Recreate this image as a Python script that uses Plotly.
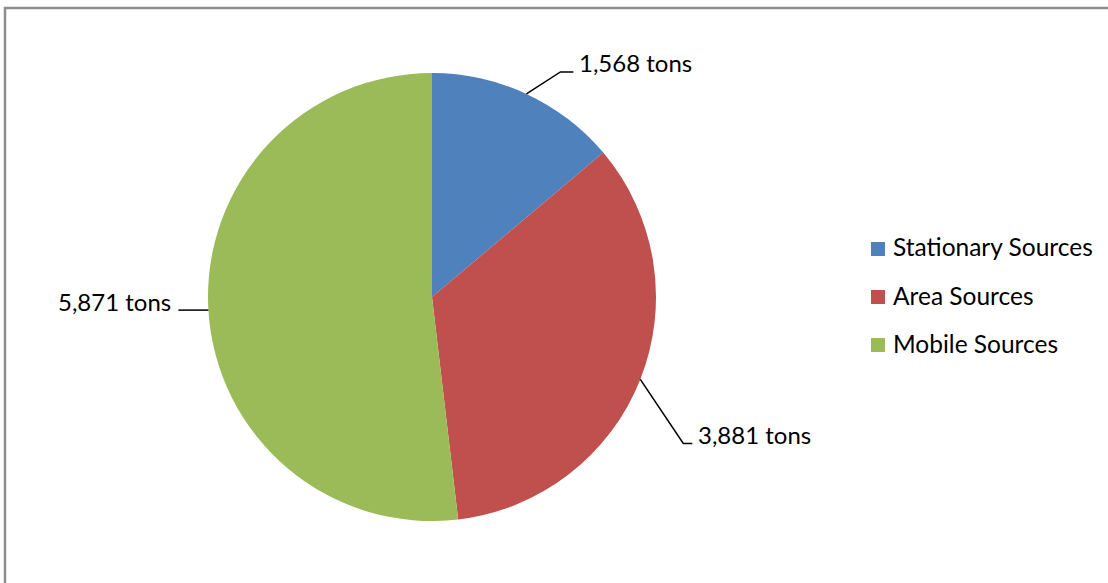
import math
import plotly.graph_objects as go

categories = ["Stationary Sources", "Area Sources", "Mobile Sources"]
values = [1568, 3881, 5871]
colors = ["#4F81BD", "#C0504D", "#9BBB59"]
label_texts = ["1,568 tons", "3,881 tons", "5,871 tons"]

W, H = 1108, 583
CX, CY, R = 432, 297, 224
FONT = "Lato"
FS = 24

def px(x):
    return x / W

def py(y):
    return 1 - y / H

fig = go.Figure()
fig.add_trace(go.Pie(
    labels=categories, values=values, sort=False, direction="clockwise", rotation=0,
    marker=dict(colors=colors, line=dict(width=0)),
    textinfo="none", hoverinfo="label+value", showlegend=False,
    domain=dict(x=[px(CX - R), px(CX + R)], y=[py(CY + R), py(CY - R)]),
))

shapes = []
annotations = []
# leader-line elbow offsets (layout styling), per slice
elbows = [(34, -22, 13, "left"), (43, 64, 9, "left"), (0, 0, -30, "right")]
total = sum(values)
cum = 0
for i, v in enumerate(values):
    mid = (cum + v / 2) / total * 2 * math.pi
    cum += v
    ex, ey = CX + R * math.sin(mid), CY - R * math.cos(mid)
    dx, dy, hx, side = elbows[i]
    bx, by = ex + dx, ey + dy
    tx = bx + hx
    path = f"M{px(ex)},{py(ey)} L{px(bx)},{py(by)} L{px(tx)},{py(by)}"
    shapes.append(dict(type="path", xref="paper", yref="paper", path=path,
                       line=dict(color="black", width=1.5)))
    if side == "left":
        annotations.append(dict(x=px(tx + 4), y=py(by - 9), xref="paper", yref="paper",
                                text=label_texts[i], showarrow=False, xanchor="left",
                                yanchor="middle", font=dict(family=FONT, size=FS, color="black")))
    else:
        annotations.append(dict(x=px(tx - 5), y=py(by - 9), xref="paper", yref="paper",
                                text=label_texts[i], showarrow=False, xanchor="right",
                                yanchor="middle", font=dict(family=FONT, size=FS, color="black")))

# manual legend
LX, LY0, LDY, SQ = 871, 249, 48, 14
for i, c in enumerate(categories):
    y = LY0 + i * LDY
    shapes.append(dict(type="rect", xref="paper", yref="paper",
                       x0=px(LX), x1=px(LX + SQ), y0=py(y + SQ / 2), y1=py(y - SQ / 2),
                       fillcolor=colors[i], line=dict(width=0)))
    annotations.append(dict(x=px(LX + SQ + 6), y=py(y - 2), xref="paper", yref="paper",
                            text=c, showarrow=False, xanchor="left", yanchor="middle",
                            font=dict(family=FONT, size=24.5, color="black")))

# chart-area border
shapes.append(dict(type="rect", xref="paper", yref="paper",
                   x0=px(5), x1=1.02, y0=-0.02, y1=py(8),
                   line=dict(color="#8e8e8e", width=2.5), fillcolor="rgba(0,0,0,0)"))

fig.update_layout(
    width=W, height=H, margin=dict(l=0, r=0, t=0, b=0),
    paper_bgcolor="white", plot_bgcolor="white",
    shapes=shapes, annotations=annotations, showlegend=False,
)
fig.write_html("out.html")
